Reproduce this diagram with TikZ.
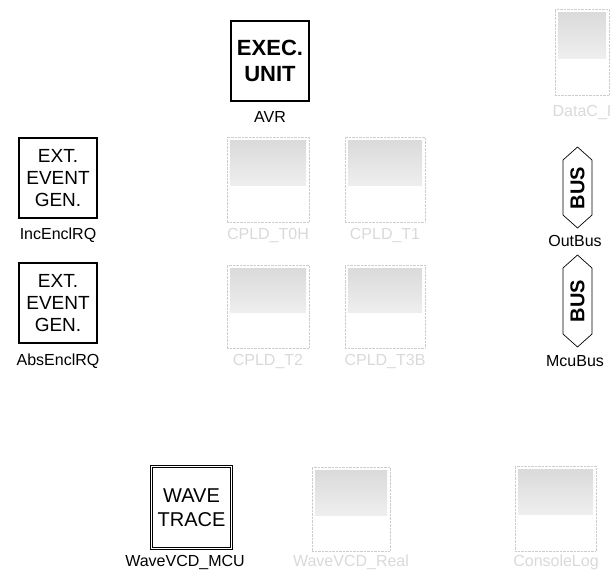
\documentclass[tikz,border=0pt]{standalone}
\usepackage{fontspec}
\setmainfont{Liberation Sans}
\usetikzlibrary{positioning}

\tikzset{
	unitbox/.style={draw, line width=1.1pt, inner sep=0pt, align=center},
	tag/.style={font=\fontsize{16}{16}\selectfont, text height=11.5pt, text depth=0pt, inner sep=0pt},
	fadetag/.style={tag, text=gray!30},
	fadebox/.style={draw=gray!40, densely dotted, inner sep=0pt,
		path picture={\shade[top color=gray!30, bottom color=white]
			([xshift=3pt,yshift=-3pt]path picture bounding box.north west) rectangle
			([xshift=-3pt,yshift=-6pt]path picture bounding box.east);}},
	bustext/.style={font=\bfseries\fontsize{20}{20}\selectfont, rotate=90, inner sep=0pt}
}

\begin{document}
\begin{tikzpicture}[x=1pt,y=-1pt]
	\useasboundingbox (0,0) rectangle (612,574);

	% active units
	\node[unitbox, minimum width=78pt, minimum height=80pt, font=\bfseries\fontsize{22}{26}\selectfont] (avr) at (270,61) {EXEC.\\UNIT};
	\node[tag] (avrtag) at (270,117) {AVR};

	\node[unitbox, minimum width=78pt, minimum height=80pt, font=\fontsize{19}{22}\selectfont] (inc) at (58,178) {EXT.\\EVENT\\GEN.};
	\node[tag] (inctag) at (58,234) {IncEnclRQ};

	\node[unitbox, minimum width=78pt, minimum height=80pt, font=\fontsize{19}{22}\selectfont] (abs) at (58,303) {EXT.\\EVENT\\GEN.};
	\node[tag] (abstag) at (58,360) {AbsEnclRQ};

	\node[unitbox, double, double distance=1pt, minimum width=80pt, minimum height=82pt, font=\fontsize{20}{24}\selectfont] (wave) at (191.5,507.5) {WAVE\\TRACE};
	\node[tag] (wavetag) at (185,561) {WaveVCD\_MCU};

	% buses
	\node[bustext] (outbus) at (577.5,188) {BUS};
	\draw[line width=0.7pt] (outbus.center) ++(0,-41) -- ++(14.5,13) -- ++(0,55) -- ++(-14.5,13) -- ++(-14.5,-13) -- ++(0,-55) -- cycle;
	\node[tag] (outbustag) at (575,241) {OutBus};

	\node[bustext] (mcubus) at (577.5,301) {BUS};
	\draw[line width=0.7pt] (mcubus.center) ++(0,-46) -- ++(14.5,13) -- ++(0,66) -- ++(-14.5,13) -- ++(-14.5,-13) -- ++(0,-66) -- cycle;
	\node[tag] (mcubustag) at (575,361) {McuBus};

	% inactive units
	\foreach \nm/\x/\y/\w/\h/\lx/\ly/\txt in {
		datac/582/52/54/86/582/111/DataC\_I,
		tzeroh/268/179.5/82/85/268/234/CPLD\_T0H,
		tone/385/179.5/80/85/385/234/CPLD\_T1,
		ttwo/268/306.5/82/83/268/360/CPLD\_T2,
		tthree/385/306.5/80/83/385/360/CPLD\_T3B,
		wavereal/351/509/78/84/351/561/WaveVCD\_Real,
		console/555.5/508.5/81/85/556/561/ConsoleLog}
	{
		\node[fadebox, minimum width=\w pt, minimum height=\h pt] (\nm) at (\x,\y) {};
		\node[fadetag] (\nm tag) at (\lx,\ly) {\txt};
	}
\end{tikzpicture}
\end{document}
